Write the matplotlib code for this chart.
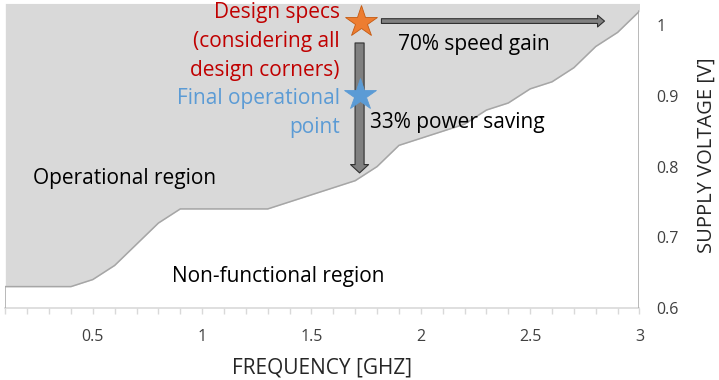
import matplotlib
matplotlib.use("Agg")
import matplotlib.pyplot as plt
from matplotlib.ticker import FixedLocator, NullFormatter

plt.rcParams['font.family'] = ['Open Sans', 'DejaVu Sans']

# Minimum supply voltage needed at each clock frequency
freq = [0.1, 0.2, 0.3, 0.4, 0.5, 0.6, 0.7, 0.8, 0.9, 1.0,
        1.1, 1.2, 1.3, 1.4, 1.5, 1.6, 1.7, 1.8, 1.9, 2.0,
        2.1, 2.2, 2.3, 2.4, 2.5, 2.6, 2.7, 2.8, 2.9, 3.0]
vmin = [0.63, 0.63, 0.63, 0.63, 0.64, 0.66, 0.69, 0.72, 0.74, 0.74,
        0.74, 0.74, 0.74, 0.75, 0.76, 0.77, 0.78, 0.80, 0.83, 0.84,
        0.85, 0.86, 0.88, 0.89, 0.91, 0.92, 0.94, 0.97, 0.99, 1.02]

spec_point = (1.727, 1.004)    # design specs (all corners)
final_point = (1.72, 0.902)    # final operational point
speed_arrow_end = 2.84
power_arrow_end = 0.791

x_major = [0.5, 1.0, 1.5, 2.0, 2.5, 3.0]
x_labels = ['0.5', '1', '1.5', '2', '2.5', '3']
y_ticks = [0.6, 0.7, 0.8, 0.9, 1.0]
y_labels = ['0.6', '0.7', '0.8', '0.9', '1']

fig = plt.figure(figsize=(7.19, 3.80), dpi=100)
ax = fig.add_axes([0.0074, 0.19, 0.882, 0.801])
ax.set_xlim(0.1, 3.0)
ax.set_ylim(0.6, 1.031)

# operational (shaded) vs. non-functional (white) regions
ax.fill_between(freq, vmin, 1.031, color='#D9D9D9', lw=0, zorder=1)
ax.plot(freq, vmin, color='#A6A6A6', lw=1.1, zorder=2)
ax.plot([freq[0], freq[0]], [0.6, vmin[0]], color='#A6A6A6', lw=1.1, zorder=2)
ax.plot([freq[-1], freq[-1]], [0.6, vmin[-1]], color='#A6A6A6', lw=1.1, zorder=2)

# gain arrows
ax.annotate('', xy=(speed_arrow_end, 1.006), xytext=(1.82, 1.006),
            arrowprops=dict(arrowstyle='simple,head_length=5,head_width=8.5,tail_width=3.4',
                            mutation_scale=1, fc='#808080', ec='#303030', lw=0.8,
                            shrinkA=0, shrinkB=0), zorder=3)
ax.annotate('', xy=(1.72, power_arrow_end), xytext=(1.72, 0.975),
            arrowprops=dict(arrowstyle='simple,head_length=6,head_width=13,tail_width=6.5',
                            mutation_scale=1, fc='#808080', ec='#303030', lw=0.8,
                            shrinkA=0, shrinkB=0), zorder=3)

ax.plot(*spec_point, marker='*', ms=24, color='#ED7D31', mec='#C55A11', mew=0.6, zorder=4)
ax.plot(*final_point, marker='*', ms=24, color='#5B9BD5', mec='#5B9BD5', mew=0.6, zorder=4)

# annotations
ax.text(1.63, 0.977, 'Design specs\n(considering all\ndesign corners)', color='#C00000',
        fontsize=15, ha='right', va='center', linespacing=1.52, zorder=5)
ax.text(1.63, 0.876, 'Final operational\npoint', color='#5B9BD5',
        fontsize=15, ha='right', va='center', linespacing=1.52, zorder=5)
ax.text(1.895, 0.973, '70% speed gain', fontsize=15, va='center', zorder=5)
ax.text(1.767, 0.862, '33% power saving', fontsize=15, va='center', zorder=5)
ax.text(0.228, 0.783, 'Operational region', fontsize=15, va='center', zorder=5)
ax.text(0.861, 0.644, 'Non-functional region', fontsize=15, va='center', zorder=5)

# axes
for side in ['top', 'left', 'right']:
    ax.spines[side].set_visible(False)
ax.spines['bottom'].set_color('#D9D9D9')
ax.spines['bottom'].set_linewidth(1.2)
ax.spines['bottom'].set_zorder(0)

ax.xaxis.set_major_locator(FixedLocator(x_major))
ax.set_xticklabels(x_labels)
ax.xaxis.set_minor_locator(FixedLocator(freq))
ax.xaxis.set_minor_formatter(NullFormatter())
ax.tick_params(axis='x', which='both', direction='out', length=4, width=1,
               color='#D9D9D9', labelsize=11.5, labelcolor='#404040', pad=11)

ax.yaxis.tick_right()
ax.set_yticks(y_ticks)
ax.set_yticklabels(y_labels)
ax.tick_params(axis='y', length=0, labelsize=11.5, labelcolor='#404040', pad=12)
for lbl in ax.get_yticklabels():
    lbl.set_horizontalalignment('left')

ax.set_xlabel('FREQUENCY [GHZ]', fontsize=15, color='#262626', labelpad=9)
ax.yaxis.set_label_position('right')
ax.set_ylabel('SUPPLY VOLTAGE [V]', fontsize=14.5, color='#262626', labelpad=13)

fig.savefig('out.png', dpi=100)
